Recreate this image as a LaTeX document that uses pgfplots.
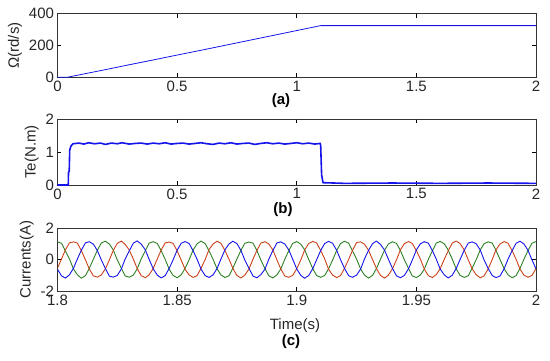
\documentclass[border=0pt]{standalone}
\usepackage{fontspec}
\setmainfont{Liberation Sans}
\usepackage{pgfplots}
\usepackage{pgfplotstable}
\pgfplotsset{compat=1.18}

\definecolor{cblue}{RGB}{20,20,235}
\definecolor{cred}{RGB}{205,65,25}
\definecolor{cgreen}{RGB}{45,130,35}

\pgfplotsset{
  panel/.style={
    scale only axis, width=478.5pt, anchor=south west,
    tick align=inside,
    tick label style={font=\fontsize{15}{17}\selectfont, text=black!85},
    label style={font=\fontsize{15}{17}\selectfont, text=black!85},
    /pgf/number format/assume math mode=true,
    axis line style={line width=0.7pt, black!80},
    major tick style={line width=0.6pt, black},
    major tick length=4pt,
  }
}

% three phase currents, t  green  red  blue
\pgfplotstableread{
t g r b
1.8000 1.12 -0.55 -0.62
1.8017 1.03 0.04 -1.04
1.8033 0.55 0.61 -1.18
1.8050 0.03 1.06 -0.97
1.8067 -0.61 1.12 -0.55
1.8083 -0.97 1.04 0.03
1.8100 -1.19 0.55 0.60
1.8117 -1.02 -0.03 1.06
1.8133 -0.56 -0.60 1.13
1.8150 0.02 -1.04 0.97
1.8167 0.60 -1.12 0.56
1.8183 1.05 -0.98 -0.02
1.8200 1.16 -0.60 -0.57
1.8217 0.98 -0.02 -1.06
1.8233 0.61 0.57 -1.12
1.8250 -0.03 1.03 -1.01
1.8267 -0.56 1.17 -0.60
1.8283 -1.05 0.96 0.04
1.8300 -1.12 0.60 0.55
1.8317 -0.99 0.02 1.04
1.8333 -0.60 -0.57 1.18
1.8350 0.04 -1.03 0.98
1.8367 0.56 -1.16 0.61
1.8383 1.04 -0.97 0.01
1.8400 1.13 -0.57 -0.59
1.8417 1.02 0.03 -0.99
1.8433 0.57 0.59 -1.17
1.8450 0.01 1.05 -1.03
1.8467 -0.62 1.11 -0.56
1.8483 -1.01 1.02 -0.03
1.8500 -1.16 0.56 0.59
1.8517 -0.97 -0.04 1.03
1.8533 -0.57 -0.61 1.14
1.8550 -0.02 -0.98 1.02
1.8567 0.61 -1.14 0.55
1.8583 0.99 -1.03 0.03
1.8600 1.17 -0.56 -0.61
1.8617 1.01 -0.01 -1.02
1.8633 0.56 0.62 -1.14
1.8650 0.02 0.98 -0.98
1.8667 -0.59 1.16 -0.57
1.8683 -0.98 1.03 0.02
1.8700 -1.14 0.57 0.62
1.8717 -1.03 0.01 0.99
1.8733 -0.55 -0.56 1.16
1.8750 0.03 -1.02 1.01
1.8767 0.59 -1.17 0.57
1.8783 1.03 -0.99 -0.04
1.8800 1.11 -0.61 -0.55
1.8817 1.04 0.02 -1.05
1.8833 0.59 0.56 -1.16
1.8850 -0.04 1.04 -0.96
1.8867 -0.57 1.13 -0.62
1.8883 -1.03 0.99 0.01
1.8900 -1.17 0.61 0.56
1.8917 -0.98 -0.02 1.05
1.8933 -0.61 -0.59 1.12
1.8950 0.01 -1.05 0.99
1.8967 0.57 -1.13 0.60
1.8983 1.02 -1.01 0.02
1.9000 1.14 -0.58 -0.60
1.9017 0.97 -0.03 -1.01
1.9033 0.62 0.60 -1.19
1.9050 0.00 1.02 -1.02
1.9067 -0.58 1.15 -0.58
1.9083 -1.02 1.05 -0.02
1.9100 -1.13 0.58 0.57
1.9117 -1.01 0.03 1.02
1.9133 -0.59 -0.62 1.15
1.9150 -0.03 -0.99 1.03
1.9167 0.58 -1.15 0.58
1.9183 1.01 -1.02 -0.01
1.9200 1.16 -0.55 -0.58
1.9217 1.03 0.01 -1.03
1.9233 0.55 0.58 -1.13
1.9250 0.03 1.07 -0.99
1.9267 -0.60 1.12 -0.61
1.9283 -0.99 0.97 0.03
1.9300 -1.18 0.59 0.58
1.9317 -1.00 -0.01 1.01
1.9333 -0.58 -0.57 1.17
1.9350 0.02 -1.01 0.96
1.9367 0.60 -1.18 0.59
1.9383 0.98 -1.00 0.02
1.9400 1.13 -0.59 -0.56
1.9417 1.02 -0.02 -1.04
1.9433 0.58 0.61 -1.16
1.9450 -0.02 1.01 -1.01
1.9467 -0.56 1.14 -0.59
1.9483 -1.04 1.02 -0.04
1.9500 -1.15 0.56 0.61
1.9517 -0.98 0.02 1.00
1.9533 -0.62 -0.60 1.13
1.9550 0.01 -1.03 1.04
1.9567 0.56 -1.14 0.56
1.9583 1.04 -0.96 0.03
1.9600 1.15 -0.57 -0.62
1.9617 0.99 0.03 -0.98
1.9633 0.60 0.55 -1.17
1.9650 0.02 1.04 -1.00
1.9667 -0.61 1.17 -0.55
1.9683 -1.01 1.00 0.01
1.9700 -1.14 0.60 0.59
1.9717 -1.03 -0.03 1.04
1.9733 -0.56 -0.58 1.12
1.9750 -0.01 -0.97 1.00
1.9767 0.61 -1.16 0.60
1.9783 1.00 -1.04 -0.03
1.9800 1.12 -0.60 -0.57
1.9817 1.05 0.00 -1.02
1.9833 0.57 0.62 -1.15
1.9850 -0.01 0.99 -1.04
1.9867 -0.59 1.14 -0.58
1.9883 -0.97 1.03 0.02
1.9900 -1.16 0.57 0.56
1.9917 -1.02 0.01 1.03
1.9933 -0.57 -0.61 1.16
1.9950 0.03 -1.00 0.98
1.9967 0.58 -1.13 0.57
1.9983 1.03 -1.01 -0.02
2.0000 1.14 -0.58 -0.59
}\currents

\begin{document}
\begin{tikzpicture}
\path[use as bounding box] (0,0) rectangle (550pt,360pt);

% (a) speed
\begin{axis}[panel, at={(57.5pt,282.7pt)}, height=63.6pt,
  xmin=0, xmax=2, ymin=0, ymax=400,
  xtick={0,0.5,1,1.5,2}, ytick={0,200,400},
  ylabel={Ω(rd/s)}]
\addplot[cblue, line width=0.8pt] coordinates {
(0,0)(0.04,0)(0.1,18)(0.2,48)(0.3,79)(0.4,109)(0.5,140)(0.6,170)
(0.7,201)(0.8,232)(0.9,263)(1.0,294)(1.1,325)(2,325)};
\end{axis}

% (b) torque
\begin{axis}[panel, at={(57.5pt,175pt)}, height=66pt,
  xmin=0, xmax=2, ymin=0, ymax=2,
  xtick={0,0.5,1,1.5,2}, ytick={0,1,2},
  ylabel={Te(N.m)}]
\addplot[cblue, line width=1.6pt] coordinates {
(0,0)(0.045,0)(0.046,0.38)(0.049,0.42)(0.051,1.05)(0.056,1.18)(0.065,1.25)
(0.09,1.27)(0.11,1.24)(0.13,1.28)(0.155,1.25)(0.18,1.27)(0.2,1.23)(0.225,1.27)
(0.25,1.25)(0.27,1.28)(0.3,1.24)(0.325,1.26)(0.35,1.27)(0.375,1.24)(0.4,1.27)
(0.425,1.25)(0.45,1.28)(0.475,1.24)(0.5,1.26)(0.525,1.27)(0.55,1.24)(0.575,1.26)
(0.6,1.28)(0.625,1.25)(0.65,1.23)(0.675,1.27)(0.7,1.25)(0.725,1.28)(0.75,1.24)
(0.775,1.26)(0.8,1.27)(0.825,1.23)(0.85,1.26)(0.875,1.28)(0.9,1.25)(0.925,1.27)
(0.95,1.24)(0.975,1.26)(1.0,1.28)(1.025,1.25)(1.05,1.27)(1.075,1.24)(1.098,1.26)
(1.1,1.2)(1.104,0.3)(1.11,0.07)(1.2,0.05)(1.4,0.06)(1.6,0.05)(1.8,0.06)(2,0.05)};
\end{axis}

% (c) currents
\begin{axis}[panel, at={(57.5pt,69pt)}, height=63pt,
  xmin=1.8, xmax=2, ymin=-2, ymax=2,
  xtick={1.8,1.85,1.9,1.95,2}, ytick={-2,0,2},
  ylabel={Currents(A)}]
\addplot[cgreen, line width=0.9pt] table[x=t, y=g] {\currents};
\addplot[cred, line width=0.9pt] table[x=t, y=r] {\currents};
\addplot[cblue, line width=0.9pt] table[x=t, y=b] {\currents};
\end{axis}

\node[font=\bfseries\fontsize{15}{17}\selectfont] at (281pt,259pt) {(a)};
\node[font=\bfseries\fontsize{15}{17}\selectfont] at (283pt,150pt) {(b)};
\node[font=\fontsize{15}{17}\selectfont, text=black!85] at (295pt,34pt) {Time(s)};
\node[font=\bfseries\fontsize{15}{17}\selectfont] at (291pt,18pt) {(c)};
\end{tikzpicture}
\end{document}
